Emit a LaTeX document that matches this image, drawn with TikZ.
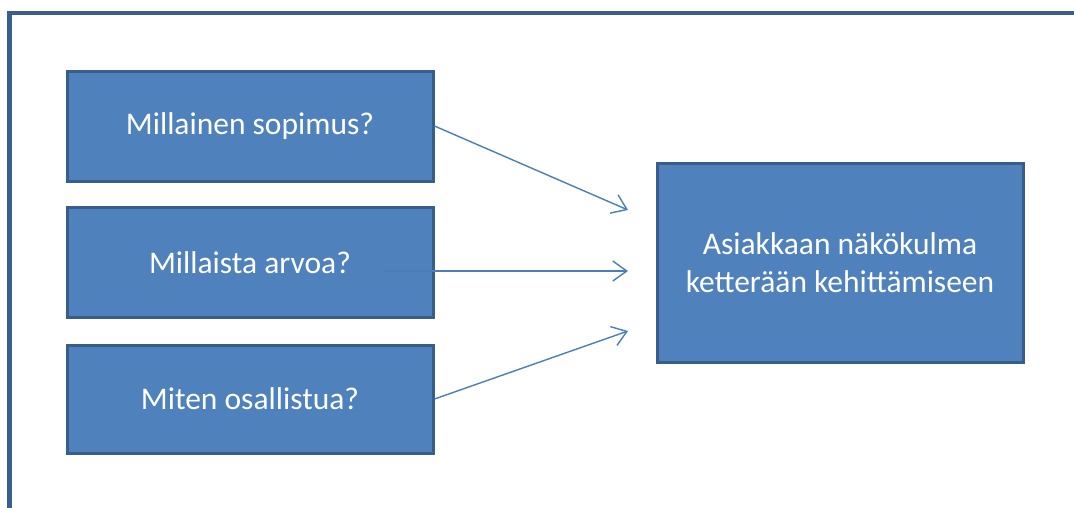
\documentclass[tikz,border=0pt]{standalone}
\usepackage{fontspec}
\setmainfont{Carlito}
\usetikzlibrary{arrows.meta}
\definecolor{boxfill}{HTML}{4F81BD}
\definecolor{boxline}{HTML}{385D8A}
\definecolor{framecol}{HTML}{3A5F8F}
\definecolor{arrowcol}{HTML}{4A7EBB}
\tikzset{
  qbox/.style={draw=boxline, line width=3pt, fill=boxfill, text=white,
    minimum width=366pt, minimum height=#1, inner sep=0pt, align=center,
    font=\fontsize{31.5}{38}\selectfont},
  conn/.style={draw=arrowcol, line width=1.4pt,
    -{Straight Barb[length=14pt,width=20pt]}}
}
\begin{document}
\begin{tikzpicture}[x=1pt,y=-1pt]
  \useasboundingbox (0,0) rectangle (1074,507);
  \begin{scope}
    \clip (0,0) rectangle (1074,507);
    % outer frame, running off the right and bottom edges
    \draw[framecol, line width=4.5pt] (9.5,540) -- (9.5,13) -- (1100,13);
  \end{scope}
  % question boxes
  \node[qbox=110pt] (b1) at (250,126) {Millainen sopimus?};
  \node[qbox=110pt] (b2) at (250,262.5) {Millaista arvoa?};
  \node[qbox=108pt] (b3) at (250,399) {Miten osallistua?};
  % target box
  \node[qbox=199pt] (r) at (840,262.5) {Asiakkaan näkökulma\\ketterään kehittämiseen};
  % arrow end points in front of the target box
  \coordinate (e1) at (628,210);
  \coordinate (e2) at (628,271);
  \coordinate (e3) at (628,331);
  \coordinate (s2) at (385,271);
  \draw[conn] (b1.east) -- (e1);
  \draw[conn] (s2) -- (e2);
  \draw[conn] (b3.east) -- (e3);
\end{tikzpicture}
\end{document}
